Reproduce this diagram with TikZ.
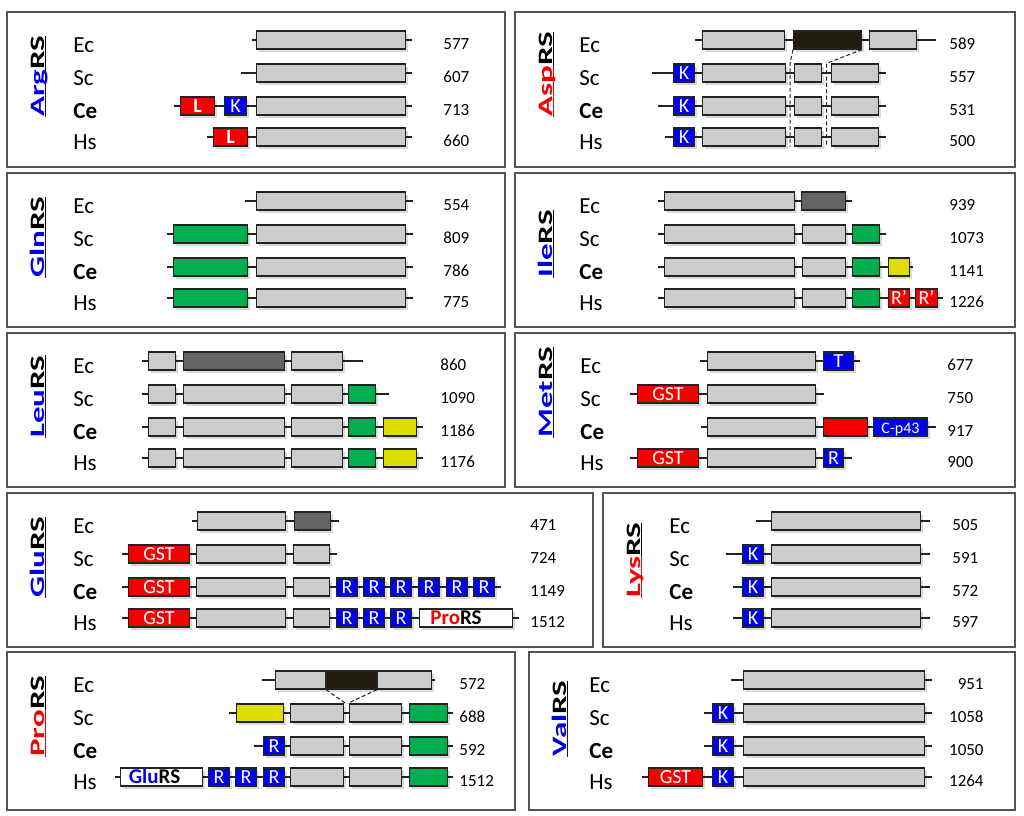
\documentclass[tikz,border=0pt]{standalone}
\usepackage{fontspec}
\setmainfont{Carlito}
\usepackage{graphicx}
\usepackage{xcolor}
\usepackage{tikz}
\usetikzlibrary{calc, shadows}
\definecolor{mydark}{RGB}{35,35,35}
\definecolor{myframe}{RGB}{85,85,85}
\definecolor{mygray}{RGB}{204,204,204}
\definecolor{mydarkgray}{RGB}{100,100,100}
\definecolor{myblack}{RGB}{32,28,18}
\definecolor{myred}{RGB}{245,0,0}
\definecolor{myblue}{RGB}{0,0,235}
\definecolor{mygreen}{RGB}{0,176,80}
\definecolor{myyellow}{RGB}{221,221,0}
\tikzset{
  dom/.style={rectangle, draw=mydark, line width=0.6pt, minimum height=9pt,
    inner sep=0pt, text=white, text height=6.5pt, text depth=0pt,
    font=\fontsize{10}{10}\selectfont,
    drop shadow={shadow xshift=1.2pt, shadow yshift=-1.6pt, fill=black, opacity=0.15}},
  graydom/.style={dom, fill=mygray},
  darkdom/.style={dom, fill=mydarkgray},
  blackdom/.style={dom, fill=myblack},
  reddom/.style={dom, fill=myred},
  bluedom/.style={dom, fill=myblue},
  greendom/.style={dom, fill=mygreen},
  yellowdom/.style={dom, fill=myyellow},
  whitedom/.style={dom, fill=white, text=black, font=\fontsize{10.5}{10.5}\selectfont\bfseries},
  backbone/.style={line width=1pt, draw=mydark},
  dashline/.style={draw=mydark, line width=0.5pt, dash pattern=on 2pt off 1.2pt},
  panel/.style={draw=myframe, line width=0.7pt},
  title/.style={rotate=90, anchor=base west, inner sep=0pt, font=\fontsize{16.5}{16.5}\selectfont\bfseries},
  species/.style={anchor=base west, inner sep=0pt, font=\fontsize{11.5}{12}\selectfont},
  count/.style={anchor=base west, inner sep=0pt, font=\fontsize{8.5}{9}\selectfont}
}
% coloured underline
\newcommand{\ulc}[2]{{\color{#1}\setbox0\hbox{#2}\rlap{\rule[-1.8pt]{\wd0}{1.1pt}}\box0}}
% frame and title: name, x1, y1, x2, y2, title
\newcommand{\panel}[6]{%
  \draw[panel] (#2,#3) rectangle (#4,#5);
  \node[title] (#1-title) at ({#2+37},{#3+105}) {\scalebox{1}[0.62]{#6}};}
% organism labels: name, x, top
\newcommand{\species}[3]{%
  \node[species] (#1-ec-lab) at (#2,{#3+40}) {Ec};
  \node[species] (#1-sc-lab) at (#2,{#3+73}) {Sc};
  \node[species] (#1-ce-lab) at (#2,{#3+106}) {\textbf{Ce}};
  \node[species] (#1-hs-lab) at (#2,{#3+137}) {Hs};}
% sequence lengths: style, name, x, top, four numbers
\newcommand{\lengths}[8]{%
  \node[#1] (#2-ec-num) at (#3,{#4+37.5}) {#5};
  \node[#1] (#2-sc-num) at (#3,{#4+70.5}) {#6};
  \node[#1] (#2-ce-num) at (#3,{#4+103.5}) {#7};
  \node[#1] (#2-hs-num) at (#3,{#4+134.5}) {#8};}
% backbone line: name, x start, x end, y
\newcommand{\bb}[4]{%
  \coordinate (#1-s) at (#2,#4);
  \coordinate (#1-e) at (#3,#4);
  \draw[backbone] (#1-s) -- (#1-e);}
% domain box: style, name, x1, x2, y, text
\newcommand{\dom}[6]{%
  \pgfmathsetmacro{\domw}{(#4-#3)*0.5-0.6}%
  \node[#1, minimum width=\domw pt] (#2) at ({(#3+#4)/2},#5) {#6};}

\begin{document}
\begin{tikzpicture}[x=0.5pt, y=-0.5pt]
  \useasboundingbox (0,0) rectangle (1024,815);

  % ArgRS
  \panel{arg}{7}{12}{505}{167}{\ulc{myblue}{Arg}\ulc{black}{RS}}
  \species{arg}{73}{12}
  \lengths{count}{arg}{443}{12}{577}{607}{713}{660}
  \bb{arg-ec}{252}{412}{40}
  \dom{graydom}{arg-ec-1}{256}{406}{40}{}
  \bb{arg-sc}{241}{412}{73}
  \dom{graydom}{arg-sc-1}{256}{406}{73}{}
  \bb{arg-ce}{174}{412}{106}
  \dom{reddom}{arg-ce-l}{180}{215}{106}{\textbf{L}}
  \dom{bluedom}{arg-ce-k}{224}{247}{106}{K}
  \dom{graydom}{arg-ce-1}{256}{406}{106}{}
  \bb{arg-hs}{207}{412}{137}
  \dom{reddom}{arg-hs-l}{213}{248}{137}{\textbf{L}}
  \dom{graydom}{arg-hs-1}{256}{406}{137}{}

  % AspRS
  \panel{asp}{515}{12}{1015}{167}{\ulc{myred}{Asp}\ulc{black}{RS}}
  \species{asp}{579}{12}
  \lengths{count}{asp}{949}{12}{589}{557}{531}{500}
  \bb{asp-ec}{695}{936}{40}
  \dom{graydom}{asp-ec-1}{702}{785}{40}{}
  \dom{blackdom}{asp-ec-2}{793}{862}{40}{}
  \dom{graydom}{asp-ec-3}{869}{917}{40}{}
  \bb{asp-sc}{652}{886}{73}
  \dom{bluedom}{asp-sc-k}{673}{695}{73}{K}
  \dom{graydom}{asp-sc-1}{702}{786}{73}{}
  \dom{graydom}{asp-sc-2}{794}{822}{73}{}
  \dom{graydom}{asp-sc-3}{831}{879}{73}{}
  \bb{asp-ce}{658}{886}{106}
  \dom{bluedom}{asp-ce-k}{673}{695}{106}{K}
  \dom{graydom}{asp-ce-1}{702}{786}{106}{}
  \dom{graydom}{asp-ce-2}{794}{822}{106}{}
  \dom{graydom}{asp-ce-3}{831}{879}{106}{}
  \bb{asp-hs}{665}{886}{137}
  \dom{bluedom}{asp-hs-k}{673}{695}{137}{K}
  \dom{graydom}{asp-hs-1}{702}{786}{137}{}
  \dom{graydom}{asp-hs-2}{794}{822}{137}{}
  \dom{graydom}{asp-hs-3}{831}{879}{137}{}
  \draw[dashline] (asp-ec-2.south west) -- ($(asp-sc-1.north east)!0.5!(asp-sc-2.north west)$)
    -- ($(asp-hs-1.south east)!0.5!(asp-hs-2.south west)$);
  \draw[dashline] (asp-ec-2.south east) -- ($(asp-sc-2.north east)!0.5!(asp-sc-3.north west)$)
    -- ($(asp-hs-2.south east)!0.5!(asp-hs-3.south west)$);

  % GlnRS
  \panel{gln}{7}{173}{505}{327}{\ulc{myblue}{Gln}\ulc{black}{RS}}
  \species{gln}{73}{173}
  \lengths{count}{gln}{443}{173}{554}{809}{786}{775}
  \bb{gln-ec}{245}{413}{201}
  \dom{graydom}{gln-ec-1}{256}{406}{201}{}
  \bb{gln-sc}{167}{413}{234}
  \dom{greendom}{gln-sc-g}{173}{248}{234}{}
  \dom{graydom}{gln-sc-1}{256}{406}{234}{}
  \bb{gln-ce}{167}{413}{267}
  \dom{greendom}{gln-ce-g}{173}{248}{267}{}
  \dom{graydom}{gln-ce-1}{256}{406}{267}{}
  \bb{gln-hs}{167}{413}{298}
  \dom{greendom}{gln-hs-g}{173}{248}{298}{}
  \dom{graydom}{gln-hs-1}{256}{406}{298}{}

  % IleRS
  \panel{ile}{515}{173}{1015}{327}{\ulc{myblue}{Ile}\ulc{black}{RS}}
  \species{ile}{579}{173}
  \lengths{count}{ile}{949}{173}{939}{1073}{1141}{1226}
  \bb{ile-ec}{658}{852}{201}
  \dom{graydom}{ile-ec-1}{664}{795}{201}{}
  \dom{darkdom}{ile-ec-2}{801}{846}{201}{}
  \bb{ile-sc}{658}{886}{234}
  \dom{graydom}{ile-sc-1}{664}{795}{234}{}
  \dom{graydom}{ile-sc-2}{802}{846}{234}{}
  \dom{greendom}{ile-sc-g}{852}{880}{234}{}
  \bb{ile-ce}{658}{913}{267}
  \dom{graydom}{ile-ce-1}{664}{795}{267}{}
  \dom{graydom}{ile-ce-2}{802}{846}{267}{}
  \dom{greendom}{ile-ce-g}{852}{880}{267}{}
  \dom{yellowdom}{ile-ce-y}{888}{910}{267}{}
  \bb{ile-hs}{658}{943}{298}
  \dom{graydom}{ile-hs-1}{664}{795}{298}{}
  \dom{graydom}{ile-hs-2}{802}{846}{298}{}
  \dom{greendom}{ile-hs-g}{852}{880}{298}{}
  \dom{reddom}{ile-hs-r1}{888}{910}{298}{R’}
  \dom{reddom}{ile-hs-r2}{915}{938}{298}{R’}

  % LeuRS
  \panel{leu}{7}{333}{505}{487}{\ulc{myblue}{Leu}\ulc{black}{RS}}
  \species{leu}{73}{333}
  \lengths{count}{leu}{440}{333}{860}{1090}{1186}{1176}
  \bb{leu-ec}{142}{363}{361}
  \dom{graydom}{leu-ec-1}{148}{176}{361}{}
  \dom{darkdom}{leu-ec-2}{183}{285}{361}{}
  \dom{graydom}{leu-ec-3}{291}{343}{361}{}
  \bb{leu-sc}{142}{389}{394}
  \dom{graydom}{leu-sc-1}{148}{176}{394}{}
  \dom{graydom}{leu-sc-2}{183}{285}{394}{}
  \dom{graydom}{leu-sc-3}{291}{343}{394}{}
  \dom{greendom}{leu-sc-g}{348}{376}{394}{}
  \bb{leu-ce}{142}{423}{427}
  \dom{graydom}{leu-ce-1}{148}{176}{427}{}
  \dom{graydom}{leu-ce-2}{183}{285}{427}{}
  \dom{graydom}{leu-ce-3}{291}{343}{427}{}
  \dom{greendom}{leu-ce-g}{348}{376}{427}{}
  \dom{yellowdom}{leu-ce-y}{383}{417}{427}{}
  \bb{leu-hs}{142}{423}{458}
  \dom{graydom}{leu-hs-1}{148}{176}{458}{}
  \dom{graydom}{leu-hs-2}{183}{285}{458}{}
  \dom{graydom}{leu-hs-3}{291}{343}{458}{}
  \dom{greendom}{leu-hs-g}{348}{376}{458}{}
  \dom{yellowdom}{leu-hs-y}{383}{417}{458}{}

  % MetRS
  \panel{met}{515}{333}{1015}{487}{\ulc{myblue}{Met}\ulc{black}{RS}}
  \species{met}{580}{333}
  \lengths{count}{met}{947}{333}{677}{750}{917}{900}
  \bb{met-ec}{700}{860}{361}
  \dom{graydom}{met-ec-1}{707}{816}{361}{}
  \dom{bluedom}{met-ec-t}{823}{854}{361}{T}
  \bb{met-sc}{630}{824}{394}
  \dom{reddom}{met-sc-gst}{637}{699}{394}{GST}
  \dom{graydom}{met-sc-1}{707}{816}{394}{}
  \bb{met-ce}{701}{936}{427}
  \dom{graydom}{met-ce-1}{707}{816}{427}{}
  \dom{reddom}{met-ce-r}{823}{868}{427}{}
  \dom{bluedom}{met-ce-p43}{873}{928}{427}{\fontsize{8}{8}\selectfont C-p43}
  \bb{met-hs}{630}{852}{458}
  \dom{reddom}{met-hs-gst}{637}{699}{458}{GST}
  \dom{graydom}{met-hs-1}{707}{816}{458}{}
  \dom{bluedom}{met-hs-r}{823}{844}{458}{R}

  % GluRS
  \panel{glu}{7}{493}{593}{647}{\ulc{myblue}{Glu}\ulc{black}{RS}}
  \species{glu}{73}{493}
  \lengths{count}{glu}{530}{493}{471}{724}{1149}{1512}
  \bb{glu-ec}{192}{339}{521}
  \dom{graydom}{glu-ec-1}{197}{286}{521}{}
  \dom{darkdom}{glu-ec-2}{294}{331}{521}{}
  \bb{glu-sc}{122}{337}{554}
  \dom{reddom}{glu-sc-gst}{128}{190}{554}{GST}
  \dom{graydom}{glu-sc-1}{196}{286}{554}{}
  \dom{graydom}{glu-sc-2}{293}{330}{554}{}
  \bb{glu-ce}{122}{501}{587}
  \dom{reddom}{glu-ce-gst}{128}{190}{587}{GST}
  \dom{graydom}{glu-ce-1}{196}{286}{587}{}
  \dom{graydom}{glu-ce-2}{293}{330}{587}{}
  \dom{bluedom}{glu-ce-r1}{336}{358}{587}{R}
  \dom{bluedom}{glu-ce-r2}{363}{385}{587}{R}
  \dom{bluedom}{glu-ce-r3}{390}{412}{587}{R}
  \dom{bluedom}{glu-ce-r4}{418}{440}{587}{R}
  \dom{bluedom}{glu-ce-r5}{446}{468}{587}{R}
  \dom{bluedom}{glu-ce-r6}{473}{495}{587}{R}
  \bb{glu-hs}{122}{519}{618}
  \dom{reddom}{glu-hs-gst}{128}{190}{618}{GST}
  \dom{graydom}{glu-hs-1}{196}{286}{618}{}
  \dom{graydom}{glu-hs-2}{293}{330}{618}{}
  \dom{bluedom}{glu-hs-r1}{336}{358}{618}{R}
  \dom{bluedom}{glu-hs-r2}{363}{385}{618}{R}
  \dom{bluedom}{glu-hs-r3}{390}{412}{618}{R}
  \dom{whitedom}{glu-hs-pro}{419}{513}{618}{{\color{myred}Pro}RS\hspace*{10pt}}

  % LysRS
  \panel{lys}{603}{493}{1015}{647}{\ulc{myred}{Lys}\ulc{black}{RS}}
  \species{lys}{669}{493}
  \lengths{count}{lys}{952}{493}{505}{591}{572}{597}
  \bb{lys-ec}{756}{930}{521}
  \dom{graydom}{lys-ec-1}{771}{921}{521}{}
  \bb{lys-sc}{726}{930}{554}
  \dom{bluedom}{lys-sc-k}{742}{764}{554}{K}
  \dom{graydom}{lys-sc-1}{771}{921}{554}{}
  \bb{lys-ce}{733}{930}{587}
  \dom{bluedom}{lys-ce-k}{742}{764}{587}{K}
  \dom{graydom}{lys-ce-1}{771}{921}{587}{}
  \bb{lys-hs}{733}{930}{618}
  \dom{bluedom}{lys-hs-k}{742}{764}{618}{K}
  \dom{graydom}{lys-hs-1}{771}{921}{618}{}

  % ProRS
  \panel{pro}{7}{652}{515}{810}{\ulc{myred}{Pro}\ulc{black}{RS}}
  \species{pro}{73}{652}
  \lengths{count}{pro}{459}{652}{572}{688}{592}{1512}
  \bb{pro-ec}{262}{435}{680}
  \dom{graydom}{pro-ec-1}{275}{326}{680}{}
  \dom{blackdom}{pro-ec-2}{326}{377}{680}{}
  \dom{graydom}{pro-ec-3}{377}{432}{680}{}
  \bb{pro-sc}{229}{453}{713}
  \dom{yellowdom}{pro-sc-y}{236}{284}{713}{}
  \dom{graydom}{pro-sc-1}{290}{344}{713}{}
  \dom{graydom}{pro-sc-2}{349}{402}{713}{}
  \dom{greendom}{pro-sc-g}{409}{448}{713}{}
  \bb{pro-ce}{254}{453}{746}
  \dom{bluedom}{pro-ce-r}{263}{285}{746}{R}
  \dom{graydom}{pro-ce-1}{290}{344}{746}{}
  \dom{graydom}{pro-ce-2}{349}{402}{746}{}
  \dom{greendom}{pro-ce-g}{409}{448}{746}{}
  \bb{pro-hs}{115}{453}{777}
  \dom{whitedom}{pro-hs-glu}{120}{203}{777}{{\color{myblue}Glu}RS\hspace*{7pt}}
  \dom{bluedom}{pro-hs-r1}{208}{230}{777}{R}
  \dom{bluedom}{pro-hs-r2}{235}{257}{777}{R}
  \dom{bluedom}{pro-hs-r3}{263}{285}{777}{R}
  \dom{graydom}{pro-hs-1}{290}{344}{777}{}
  \dom{graydom}{pro-hs-2}{349}{402}{777}{}
  \dom{greendom}{pro-hs-g}{409}{448}{777}{}
  \draw[dashline] (pro-ec-2.south west) -- ($(pro-sc-1.north east)!0.35!(pro-sc-2.north west)$);
  \draw[dashline] (pro-ec-2.south east) -- ($(pro-sc-1.north east)!0.75!(pro-sc-2.north west)$);

  % ValRS
  \panel{val}{529}{652}{1015}{810}{\ulc{myblue}{Val}\ulc{black}{RS}}
  \species{val}{589}{652}
  \lengths{count, anchor=base east}{val}{984}{652}{951}{1058}{1050}{1264}
  \bb{val-ec}{731}{932}{680}
  \dom{graydom}{val-ec-1}{743}{925}{680}{}
  \bb{val-sc}{704}{932}{713}
  \dom{bluedom}{val-sc-k}{712}{734}{713}{K}
  \dom{graydom}{val-sc-1}{743}{925}{713}{}
  \bb{val-ce}{704}{932}{746}
  \dom{bluedom}{val-ce-k}{712}{734}{746}{K}
  \dom{graydom}{val-ce-1}{743}{925}{746}{}
  \bb{val-hs}{642}{932}{777}
  \dom{reddom}{val-hs-gst}{648}{703}{777}{GST}
  \dom{bluedom}{val-hs-k}{712}{734}{777}{K}
  \dom{graydom}{val-hs-1}{743}{925}{777}{}
\end{tikzpicture}
\end{document}
